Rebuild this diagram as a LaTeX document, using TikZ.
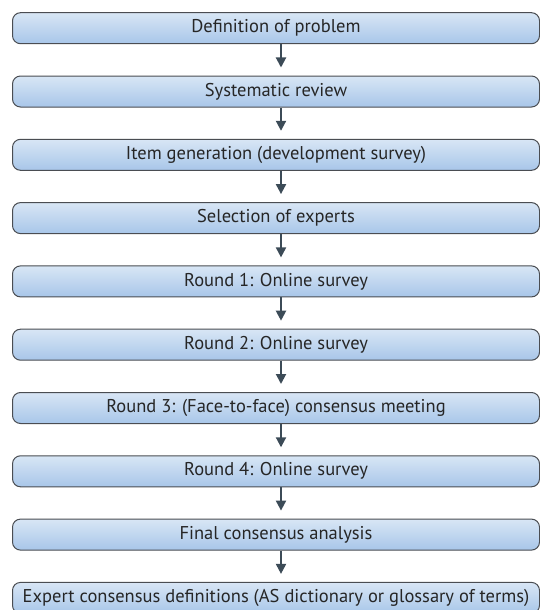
\documentclass[tikz,border=0pt]{standalone}
\usepackage{fontspec}
\setmainfont{PT Sans}
\usepackage{xcolor}
\usetikzlibrary{arrows.meta, shadings}

\definecolor{boxtop}{HTML}{D8E6F5}
\definecolor{boxbottom}{HTML}{A8C6E9}
\definecolor{boxline}{HTML}{4A4D52}
\definecolor{arrowgrey}{HTML}{3C4B57}
\definecolor{textgrey}{HTML}{262626}

\tikzset{
    stage/.style={rectangle, rounded corners=8pt, draw=boxline, line width=1pt,
        top color=boxtop, bottom color=boxbottom, minimum width=527pt,
        minimum height=31pt, inner sep=0pt, text=textgrey,
        font=\fontsize{18.5}{20}\selectfont},
    flow/.style={-{Triangle[width=10pt, length=10pt]}, line width=2pt,
        draw=arrowgrey, shorten >=8pt}
}

\begin{document}
\begin{tikzpicture}[x=1pt, y=-1pt]
        \useasboundingbox (0,0) rectangle (540,610);

        \node[stage] at (276, 28.2)   (problem)  {Definition of problem};
        \node[stage] at (276, 91.5)   (review)   {Systematic review};
        \node[stage] at (276, 154.8)  (items)    {Item generation (development survey)};
        \node[stage] at (276, 218.1)  (experts)  {Selection of experts};
        \node[stage] at (276, 281.4)  (roundA)   {Round 1: Online survey};
        \node[stage] at (276, 344.7)  (roundB)   {Round 2: Online survey};
        \node[stage] at (276, 408.0)  (roundC)   {Round 3: (Face-to-face) consensus meeting};
        \node[stage] at (276, 471.3)  (roundD)   {Round 4: Online survey};
        \node[stage] at (276, 534.6)  (analysis) {Final consensus analysis};
        \node[stage] at (276, 597.9)  (result)   {Expert consensus definitions (AS dictionary or glossary of terms)};

        \draw [flow] ([xshift=5pt]problem.south)  -- ([xshift=5pt]review.north);
        \draw [flow] ([xshift=5pt]review.south)   -- ([xshift=5pt]items.north);
        \draw [flow] ([xshift=5pt]items.south)    -- ([xshift=5pt]experts.north);
        \draw [flow] ([xshift=5pt]experts.south)  -- ([xshift=5pt]roundA.north);
        \draw [flow] ([xshift=5pt]roundA.south)   -- ([xshift=5pt]roundB.north);
        \draw [flow] ([xshift=5pt]roundB.south)   -- ([xshift=5pt]roundC.north);
        \draw [flow] ([xshift=5pt]roundC.south)   -- ([xshift=5pt]roundD.north);
        \draw [flow] ([xshift=5pt]roundD.south)   -- ([xshift=5pt]analysis.north);
        \draw [flow] ([xshift=5pt]analysis.south) -- ([xshift=5pt]result.north);
    \end{tikzpicture}
\end{document}
